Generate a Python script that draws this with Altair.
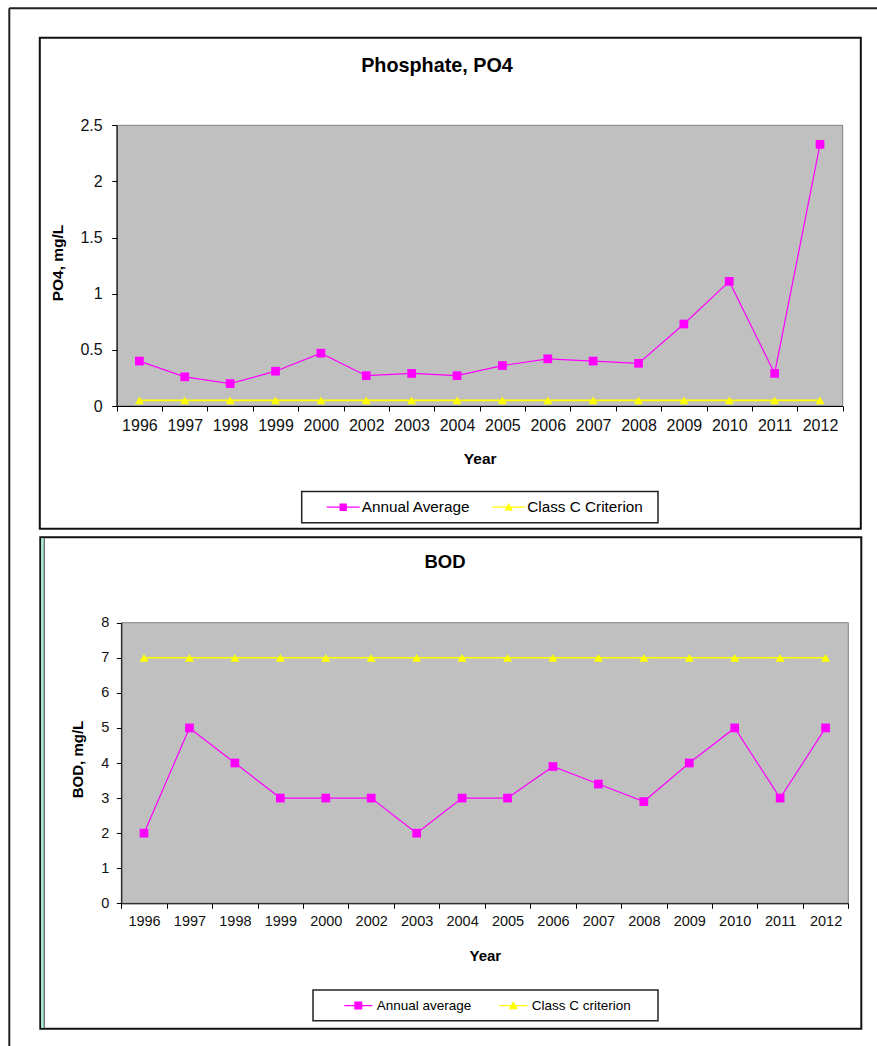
import altair as alt
import pandas as pd

# ---- data -------------------------------------------------------------
years = ["1996", "1997", "1998", "1999", "2000", "2002", "2003", "2004",
         "2005", "2006", "2007", "2008", "2009", "2010", "2011", "2012"]

po4_avg = [0.40, 0.26, 0.20, 0.31, 0.47, 0.27, 0.29, 0.27,
           0.36, 0.42, 0.40, 0.38, 0.73, 1.11, 0.29, 2.33]
po4_crit = [0.05, 0.05, 0.05, 0.05, 0.05, 0.05, 0.05, 0.05,
            0.05, 0.05, 0.05, 0.05, 0.05, 0.05, 0.05, 0.05]
po4_series = ["Annual Average", "Class C Criterion"]
po4_ticks = [0, 0.5, 1, 1.5, 2, 2.5]

bod_avg = [2, 5, 4, 3, 3, 3, 2, 3, 3, 3.9, 3.4, 2.9, 4, 5, 3, 5]
bod_crit = [7, 7, 7, 7, 7, 7, 7, 7, 7, 7, 7, 7, 7, 7, 7, 7]
bod_series = ["Annual average", "Class C criterion"]
bod_ticks = [0, 1, 2, 3, 4, 5, 6, 7, 8]

MAGENTA = "#FF00FF"
YELLOW = "#FFFF00"
PLOT_BG = "#C0C0C0"
FONT = "Liberation Sans"
W, H = 877, 1046


def legend_glyph(marker, line_half, mark_half, thick=0.6):
    """Unit symbol path: a short line with the marker drawn across it."""
    t = thick / line_half
    m = mark_half / line_half
    path = f"M-1,{-t:.3f}H1V{t:.3f}H-1Z"
    if marker == "square":
        path += f"M{-m:.3f},{-m:.3f}H{m:.3f}V{m:.3f}H{-m:.3f}Z"
    else:
        path += f"M0,{-m:.3f}L{m:.3f},{0.8 * m:.3f}H{-m:.3f}Z"
    return path


def panel(avg, crit, series, ticks, s):
    """Line chart of one parameter, placed by pixel ranges on the page."""
    df = pd.DataFrame({
        "Year": years + years,
        "value": avg + crit,
        "series": [series[0]] * len(years) + [series[1]] * len(years),
    })
    x0, x1, y0, y1 = s["plot"]          # plot rectangle: left, right, top, bottom

    x = alt.X(
        "Year:O", bandPosition=0.5,
        scale=alt.Scale(type="band", domain=years, range=[x0, x1],
                        paddingInner=0, paddingOuter=0),
        axis=alt.Axis(
            orient="bottom", offset=y1 - H, zindex=1,
            title="Year", labelAngle=0, labelOverlap=False,
            labelFontSize=s["label_size"], labelPadding=s["xlabel_pad"],
            tickSize=5, tickBand="extent",
            titleFontSize=s["axis_title_size"], titleFontWeight="bold",
            titleBaseline="alphabetic", titleAlign="center",
            titleX=(x0 + x1) / 2, titleY=s["xtitle_y"],
        ),
    )
    y = alt.Y(
        "value:Q",
        scale=alt.Scale(domain=[ticks[0], ticks[-1]], range=[y1, y0], nice=False),
        axis=alt.Axis(
            orient="left", offset=-x0, zindex=1,
            title=s["ytitle"], values=ticks, format="~g",
            labelFontSize=s["label_size"], labelPadding=s["ylabel_pad"], tickSize=5,
            titleFontSize=s["axis_title_size"], titleFontWeight="bold",
            titleAngle=270, titleAlign="center", titleBaseline="middle",
            titleX=s["ytitle_x"] - x0, titleY=s["ytitle_y"],
        ),
    )

    base = alt.Chart(df)
    avg_rows = base.transform_filter(alt.datum.series == series[0])
    crit_rows = base.transform_filter(alt.datum.series == series[1])

    crit_line = crit_rows.mark_line(color=YELLOW, strokeWidth=1.6).encode(x=x, y=y)
    avg_line = avg_rows.mark_line(color=MAGENTA, strokeWidth=1.2).encode(x=x, y=y)
    crit_pts = crit_rows.mark_point(shape="triangle-up", filled=True, color=YELLOW,
                                    size=s["tri_size"], opacity=1).encode(x=x, y=y)
    avg_pts = avg_rows.mark_point(shape="square", filled=True, color=MAGENTA,
                                  size=s["sq_size"], opacity=1).encode(x=x, y=y)

    # legend: line-with-marker glyphs keyed by series name (box drawn separately)
    line_len = s["legend_line"]
    legend = alt.Legend(
        title=None, orient="none", legendX=s["legend_x"], legendY=s["legend_y"],
        direction="horizontal", padding=0, symbolOffset=0,
        symbolSize=line_len ** 2, symbolStrokeWidth=0,
        labelFontSize=s["legend_font"], labelOffset=s["legend_label_off"],
        columnPadding=s["column_pad"], labelColor="black", labelFont=FONT,
        labelBaseline="middle",
    )
    key = base.transform_filter("false").mark_point(filled=True, opacity=1).encode(
        fill=alt.Fill("series:N", scale=alt.Scale(domain=series, range=[MAGENTA, YELLOW]),
                      legend=legend),
        shape=alt.Shape("series:N",
                        scale=alt.Scale(domain=series, range=[
                            legend_glyph("square", line_len / 2, s["legend_sq"]),
                            legend_glyph("triangle", line_len / 2, s["legend_tri"])]),
                        legend=legend),
    )
    return alt.layer(crit_line, avg_line, crit_pts, avg_pts, key)


# ---- page furniture: border, chart frames, plot panels, legend boxes, titles
one = alt.Chart(alt.Data(values=[{"k": 0}]))


def box(x0, x1, y0, y1, **style):
    return one.mark_rect(**style).encode(
        x=alt.value(x0), x2=alt.value(x1), y=alt.value(y0), y2=alt.value(y1))


def hline(x0, x1, y, **style):
    return one.mark_rule(**style).encode(x=alt.value(x0), x2=alt.value(x1), y=alt.value(y))


def vline(x, y0, y1, **style):
    return one.mark_rule(**style).encode(x=alt.value(x), y=alt.value(y0), y2=alt.value(y1))


def heading(text, x, y, size):
    return one.mark_text(text=text, font=FONT, fontSize=size, fontWeight="bold",
                         color="black", align="center", baseline="alphabetic").encode(
        x=alt.value(x), y=alt.value(y))


TOP_PLOT = (116.7, 842.7, 125.3, 406.0)
BOT_PLOT = (121.3, 848.3, 622.7, 903.3)

furniture = [
    hline(9.3, W, 8.3, color="#222222", strokeWidth=2),
    vline(9.3, 8.3, H, color="#222222", strokeWidth=2),
    box(39.8, 860.8, 37.7, 528.8, fill="white", stroke="#111111", strokeWidth=2),
    box(40.3, 861.3, 537.3, 1028.7, fill="white", stroke="#111111", strokeWidth=2),
    box(41.3, 43.8, 538.3, 1027.7, fill="#A8F2DC"),
    vline(44.2, 538.3, 1027.7, color="#333333", strokeWidth=1),
    box(*TOP_PLOT, fill=PLOT_BG, stroke="#808080", strokeWidth=1),
    box(*BOT_PLOT, fill=PLOT_BG, stroke="#808080", strokeWidth=1),
    box(301.7, 658.0, 491.5, 522.7, fill="white", stroke="#222222", strokeWidth=1.5),
    box(313.0, 658.0, 990.0, 1020.7, fill="white", stroke="#222222", strokeWidth=1.5),
    heading("Phosphate, PO4", 437, 72, 19.8),
    heading("BOD", 445, 567.5, 18.5),
]

top = panel(po4_avg, po4_crit, po4_series, po4_ticks, {
    "plot": TOP_PLOT,
    "ytitle": "PO4, mg/L", "ytitle_x": 58, "ytitle_y": 262.5,
    "label_size": 16, "axis_title_size": 15.5,
    "xlabel_pad": 6, "ylabel_pad": 9.5, "xtitle_y": 57.7,
    "sq_size": 76, "tri_size": 80,
    "legend_x": 326.7, "legend_y": 490.6, "legend_line": 33, "legend_label_off": 2,
    "legend_sq": 3.7, "legend_tri": 4.2, "legend_font": 15.3, "column_pad": 21.5,
})

bottom = panel(bod_avg, bod_crit, bod_series, bod_ticks, {
    "plot": BOT_PLOT,
    "ytitle": "BOD, mg/L", "ytitle_x": 77.5, "ytitle_y": 759,
    "label_size": 14.5, "axis_title_size": 15,
    "xlabel_pad": 6, "ylabel_pad": 7.5, "xtitle_y": 57.4,
    "sq_size": 76, "tri_size": 80,
    "legend_x": 344.3, "legend_y": 991.3, "legend_line": 28, "legend_label_off": 4.4,
    "legend_sq": 4, "legend_tri": 4.6, "legend_font": 13.5, "column_pad": 28,
})

chart = alt.layer(*furniture, top, bottom).resolve_scale(
    x="independent", y="independent", fill="independent", shape="independent",
).resolve_axis(
    x="independent", y="independent",
).resolve_legend(
    fill="independent", shape="independent",
).properties(
    width=W, height=H, autosize="none", padding=0, background="white",
).configure(
    font=FONT,
).configure_view(
    strokeWidth=0,
).configure_axis(
    grid=False, domainColor="black", tickColor="black", labelColor="#111111",
    titleColor="black", labelFont=FONT, titleFont=FONT,
)

chart.save("out.html", embed_options={"renderer": "svg", "actions": False})
